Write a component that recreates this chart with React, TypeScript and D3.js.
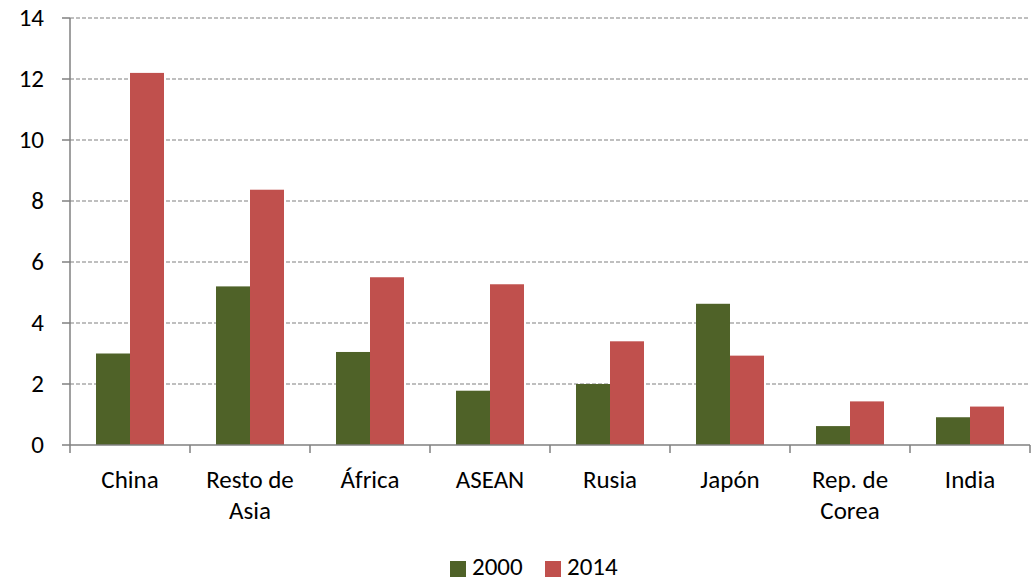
import React from "react";
import * as d3 from "d3";

const categories = ["China", "Resto de\nAsia", "África", "ASEAN", "Rusia", "Japón", "Rep. de\nCorea", "India"];
const series2000 = [3.0, 5.2, 3.05, 1.78, 2.0, 4.63, 0.62, 0.91];
const series2014 = [12.2, 8.37, 5.5, 5.27, 3.4, 2.93, 1.43, 1.26];
const yTicks = [0, 2, 4, 6, 8, 10, 12, 14];
const seriesNames = ["2000", "2014"];
const colors = ["#4f6228", "#c0504d"];

export default function App() {
  const W = 1034, H = 578;
  const left = 70, right = 1030, top = 18, bottom = 445;
  const x = d3.scaleBand<number>().domain(d3.range(categories.length)).range([left, right]).paddingInner(0).paddingOuter(0);
  const y = d3.scaleLinear().domain([0, 14]).range([bottom, top]);
  const barW = 34;
  const fs = 25;
  const font = "Carlito, 'Open Sans', 'Liberation Sans', sans-serif";
  return (
    <svg width={W} height={H} style={{ position: "absolute", left: 0, top: 0 }} fontFamily={font}>
      {yTicks.map((t) => (
        <g key={t}>
          {t > 0 && (
            <line x1={left} x2={right} y1={y(t)} y2={y(t)} stroke="#808080" strokeWidth={1.2} strokeDasharray="4,2" />
          )}
          <line x1={left - 8} x2={left} y1={y(t)} y2={y(t)} stroke="#808080" strokeWidth={1.5} />
          <text x={44} y={y(t) + 8} textAnchor="end" fontSize={fs} fill="#000">{t}</text>
        </g>
      ))}
      {categories.map((c, i) => {
        const cx = x(i)! + x.bandwidth() / 2;
        return (
          <g key={i}>
            <rect x={cx - barW} y={y(series2000[i])} width={barW} height={bottom - y(series2000[i])} fill={colors[0]} />
            <rect x={cx} y={y(series2014[i])} width={barW} height={bottom - y(series2014[i])} fill={colors[1]} />
            {c.split("\n").map((line, j) => (
              <text key={j} x={cx} y={488 + j * 31} textAnchor="middle" fontSize={fs} fill="#000">{line}</text>
            ))}
          </g>
        );
      })}
      <line x1={left} x2={left} y1={top} y2={bottom} stroke="#808080" strokeWidth={1.5} />
      <line x1={left} x2={right} y1={bottom} y2={bottom} stroke="#808080" strokeWidth={1.5} />
      {d3.range(categories.length + 1).map((i) => {
        const xx = i < categories.length ? x(i)! : right;
        return <line key={i} x1={xx} x2={xx} y1={bottom} y2={bottom + 8} stroke="#808080" strokeWidth={1.5} />;
      })}
      {seriesNames.map((s, i) => (
        <g key={s} transform={`translate(${450 + i * 95},561)`}>
          <rect x={0} y={0} width={16} height={16} fill={colors[i]} />
          <text x={22} y={14} fontSize={fs} fill="#000">{s}</text>
        </g>
      ))}
    </svg>
  );
}
